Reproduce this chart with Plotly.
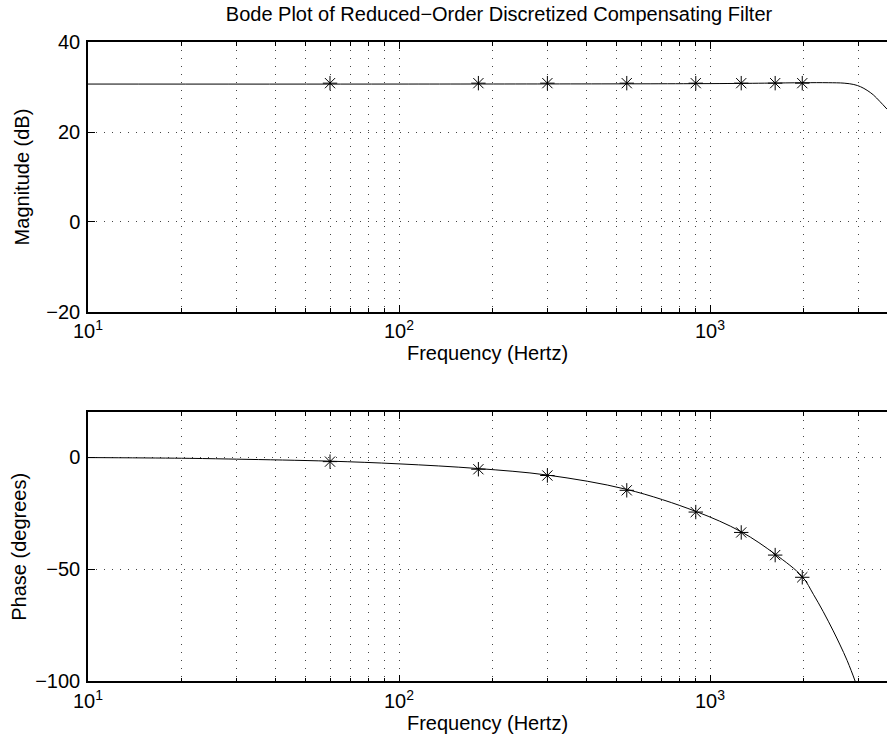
import plotly.graph_objects as go
from plotly.subplots import make_subplots

# ---- data ----
# model curve (magnitude)
mag_freq = [10, 100, 1000, 1500, 2000, 2400, 2700, 2900, 3050, 3200, 3350, 3520, 3710]
mag_db = [30.7, 30.7, 30.8, 30.9, 31.0, 31.0, 30.9, 30.6, 30.1, 29.3, 28.3, 26.8, 25.1]

# model curve (phase)
ph_freq = [10, 20, 30, 60, 100, 180, 300, 540, 900, 1260, 1620, 1980, 2150, 2310, 2490, 2620, 2760, 2930, 3100]
ph_deg = [-0.2, -0.5, -0.9, -1.8, -3.0, -5.1, -8.0, -14.4, -24.2, -33.3, -43.3, -53.3, -61.2, -68.8, -77.5, -83.8, -90.7, -100.0, -110.0]

# measured points (odd harmonics of 60 Hz)
pt_freq = [60, 180, 300, 540, 900, 1260, 1620, 1980]
pt_mag = [30.9, 30.9, 30.9, 30.9, 30.9, 30.9, 30.9, 30.9]
pt_phase = [-2.0, -5.4, -8.2, -14.8, -24.5, -33.6, -43.7, -53.6]

x_major = [10, 100, 1000]
x_major_text = ["10<sup>1</sup>", "10<sup>2</sup>", "10<sup>3</sup>"]
x_minor = [20, 30, 40, 50, 60, 70, 80, 90, 200, 300, 400, 500, 600, 700, 800, 900, 2000, 3000]
mag_ticks = [-20, 0, 20, 40]
ph_ticks = [-100, -50, 0]

title_text = "Bode Plot of Reduced\u2212Order Discretized Compensating Filter"

FONT = "Liberation Sans, Arial, Helvetica, sans-serif"
FS = 20
W, H = 887, 744

fig = make_subplots(rows=2, cols=1)

fig.add_trace(go.Scatter(x=mag_freq, y=mag_db, mode="lines", line=dict(color="black", width=1, shape="spline"),
                         showlegend=False, hoverinfo="skip"), row=1, col=1)
fig.add_trace(go.Scatter(x=pt_freq, y=pt_mag, mode="markers",
                         marker=dict(symbol="asterisk-open", size=12, color="black", line=dict(color="black", width=1)),
                         showlegend=False), row=1, col=1)
fig.add_trace(go.Scatter(x=ph_freq, y=ph_deg, mode="lines", line=dict(color="black", width=1, shape="spline"),
                         showlegend=False, hoverinfo="skip"), row=2, col=1)
fig.add_trace(go.Scatter(x=pt_freq, y=pt_phase, mode="markers",
                         marker=dict(symbol="asterisk-open", size=12, color="black", line=dict(color="black", width=1)),
                         showlegend=False), row=2, col=1)

# plot area pixel geometry (page coordinates)
left, right = 88, 887
top1, bot1 = 42.3, 311.7
top2, bot2 = 412.3, 681.3
decade_px = 311.0
xmax_log = 1 + (right - left) / decade_px
EXTRA = 10  # plot box is clipped by the window on the right, as in the reference

gdash = "1px,7px"
gcol = "#444"
grid = dict(showgrid=True, gridcolor=gcol, griddash=gdash, gridwidth=1)
xcommon = dict(type="log", range=[1, xmax_log], tickvals=x_major, ticktext=x_major_text,
               ticks="inside", ticklen=7, tickcolor="black", tickwidth=1,
               showline=True, linecolor="black", linewidth=1.5, mirror="ticks",
               zeroline=False, ticklabelstandoff=1, automargin=False,
               tickfont=dict(family=FONT, size=FS, color="black"),
               minor=dict(tickvals=x_minor, ticks="inside", ticklen=4, tickcolor="black",
                          showgrid=True, gridcolor=gcol, griddash=gdash, gridwidth=1),
               title=dict(text="Frequency (Hertz)", font=dict(family=FONT, size=FS, color="black"), standoff=4),
               **grid)

fig.update_xaxes(**xcommon, row=1, col=1)
fig.update_xaxes(**xcommon, row=2, col=1)

ycommon = dict(ticks="inside", ticklen=7, tickcolor="black", showline=True, linecolor="black", linewidth=1.5,
               mirror=False, zeroline=False, tickfont=dict(family=FONT, size=FS, color="black"),
               ticklabelstandoff=2, automargin=False, **grid)
fig.update_yaxes(**ycommon, range=[-20, 40], tickvals=mag_ticks,
                 title=dict(text="Magnitude (dB)", font=dict(family=FONT, size=FS, color="black"), standoff=11),
                 row=1, col=1)
fig.update_yaxes(**ycommon, range=[-100, 20], tickvals=ph_ticks,
                 title=dict(text="Phase (degrees)", font=dict(family=FONT, size=FS, color="black"), standoff=3),
                 row=2, col=1)

fig.update_layout(
    width=W + EXTRA, height=H,
    margin=dict(l=left, r=EXTRA, t=0, b=0),
    paper_bgcolor="white", plot_bgcolor="white",
    xaxis=dict(domain=[0, 1]), xaxis2=dict(domain=[0, 1]),
    yaxis=dict(domain=[1 - bot1 / H, 1 - top1 / H]),
    yaxis2=dict(domain=[1 - bot2 / H, 1 - top2 / H]),
    title=dict(text=title_text, x=499 / (W + EXTRA), xanchor="center", y=1 - 14 / H, yanchor="middle",
               font=dict(family=FONT, size=FS, color="black"), automargin=False),
    showlegend=False,
)

fig.write_html("out.html", config={"displayModeBar": False},
               post_script="document.body.style.margin='0';document.body.style.overflow='hidden';")
